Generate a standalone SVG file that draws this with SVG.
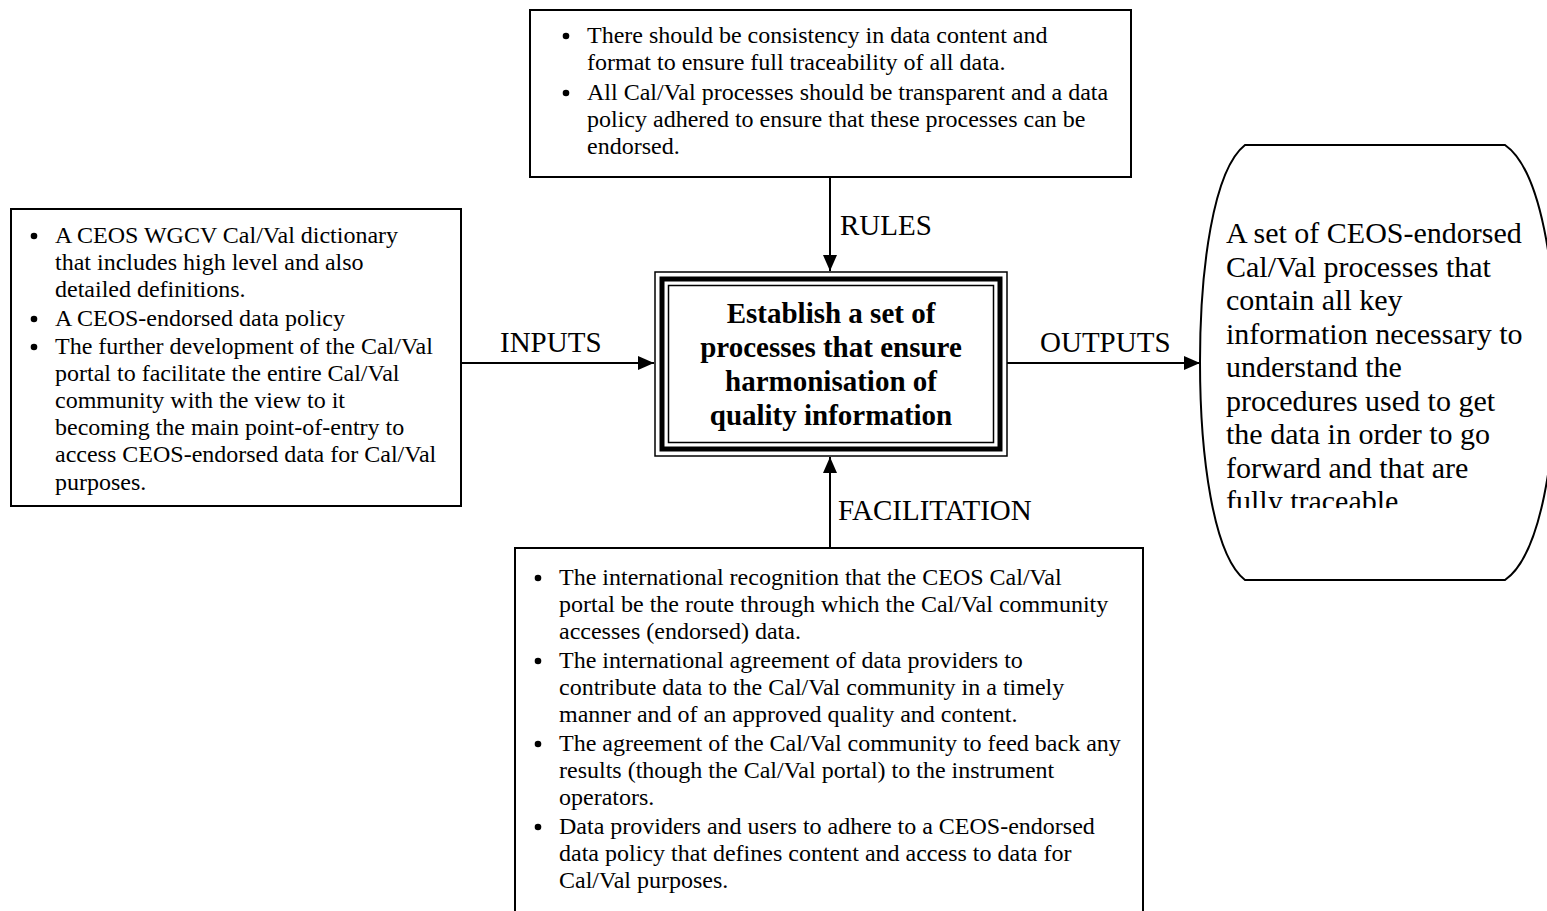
<svg xmlns="http://www.w3.org/2000/svg" width="1547" height="911" viewBox="0 0 1547 911">
<style>
.box{fill:#fff;stroke:#000;stroke-width:2}
.t{font-family:"Liberation Serif","Times New Roman",serif;font-size:24px;fill:#000}
.dot{fill:#000}
.lbl{font-family:"Liberation Serif","Times New Roman",serif;font-size:29px;fill:#000}
.out{font-family:"Liberation Serif","Times New Roman",serif;font-size:30px;fill:#000}
.bold{font-family:"Liberation Serif","Times New Roman",serif;font-size:29px;font-weight:bold;fill:#000;text-anchor:middle}
.conn{stroke:#000;stroke-width:2;fill:none}
</style>
<defs>
<marker id="ah" markerWidth="16" markerHeight="14" refX="16" refY="7" orient="auto" markerUnits="userSpaceOnUse">
<path d="M0,0 L16,7 L0,14 Z" fill="#000"/>
</marker>
<clipPath id="ovalclip"><rect x="1200" y="140" width="347" height="368"/></clipPath>
</defs>
<rect width="1547" height="911" fill="#fff"/>

<g id="rules-box">
<rect class="box" x="530" y="10" width="601" height="167"/>
<circle class="dot" cx="566" cy="36" r="3.3"/>
<text class="t" x="587" y="43">There should be consistency in data content and</text>
<text class="t" x="587" y="70">format to ensure full traceability of all data.</text>
<circle class="dot" cx="566" cy="93" r="3.3"/>
<text class="t" x="587" y="100">All Cal/Val processes should be transparent and a data</text>
<text class="t" x="587" y="127">policy adhered to ensure that these processes can be</text>
<text class="t" x="587" y="154">endorsed.</text>
</g>

<g id="inputs-box">
<rect class="box" x="11" y="209" width="450" height="297"/>
<circle class="dot" cx="34" cy="236" r="3.3"/>
<text class="t" x="55" y="243">A CEOS WGCV Cal/Val dictionary</text>
<text class="t" x="55" y="270">that includes high level and also</text>
<text class="t" x="55" y="297">detailed definitions.</text>
<circle class="dot" cx="34" cy="319" r="3.3"/>
<text class="t" x="55" y="326">A CEOS-endorsed data policy</text>
<circle class="dot" cx="34" cy="347" r="3.3"/>
<text class="t" x="55" y="354">The further development of the Cal/Val</text>
<text class="t" x="55" y="381">portal to facilitate the entire Cal/Val</text>
<text class="t" x="55" y="408">community with the view to it</text>
<text class="t" x="55" y="435">becoming the main point-of-entry to</text>
<text class="t" x="55" y="462">access CEOS-endorsed data for Cal/Val</text>
<text class="t" x="55" y="490">purposes.</text>
</g>

<g id="process-box">
<rect x="655" y="272" width="352" height="184" fill="#fff" stroke="#000" stroke-width="1.5"/>
<rect x="662" y="279" width="338" height="170" fill="none" stroke="#000" stroke-width="5"/>
<rect x="668.5" y="285.5" width="325" height="157" fill="none" stroke="#000" stroke-width="1.5"/>
<text class="bold" x="831" y="323">Establish a set of</text>
<text class="bold" x="831" y="357">processes that ensure</text>
<text class="bold" x="831" y="391">harmonisation of</text>
<text class="bold" x="831" y="425">quality information</text>
</g>

<g id="outputs-oval">
<path class="box" d="M1245,145 L1505,145 C1541,170 1556,270 1556,362 C1556,455 1541,555 1505,580 L1245,580 C1213,555 1200,455 1200,362 C1200,270 1213,170 1245,145 Z"/>
<g clip-path="url(#ovalclip)">
<text class="out" x="1226" y="243">A set of CEOS-endorsed</text>
<text class="out" x="1226" y="276.5">Cal/Val processes that</text>
<text class="out" x="1226" y="310">contain all key</text>
<text class="out" x="1226" y="343.5">information necessary to</text>
<text class="out" x="1226" y="377">understand the</text>
<text class="out" x="1226" y="410.5">procedures used to get</text>
<text class="out" x="1226" y="444">the data in order to go</text>
<text class="out" x="1226" y="477.5">forward and that are</text>
<text class="out" x="1226" y="511">fully traceable</text>
</g>
</g>

<g id="facilitation-box">
<rect class="box" x="515" y="548" width="628" height="380"/>
<circle class="dot" cx="538" cy="578" r="3.3"/>
<text class="t" x="559" y="585">The international recognition that the CEOS Cal/Val</text>
<text class="t" x="559" y="612">portal be the route through which the Cal/Val community</text>
<text class="t" x="559" y="639">accesses (endorsed) data.</text>
<circle class="dot" cx="538" cy="661" r="3.3"/>
<text class="t" x="559" y="668">The international agreement of data providers to</text>
<text class="t" x="559" y="695">contribute data to the Cal/Val community in a timely</text>
<text class="t" x="559" y="722">manner and of an approved quality and content.</text>
<circle class="dot" cx="538" cy="744" r="3.3"/>
<text class="t" x="559" y="751">The agreement of the Cal/Val community to feed back any</text>
<text class="t" x="559" y="778">results (though the Cal/Val portal) to the instrument</text>
<text class="t" x="559" y="805">operators.</text>
<circle class="dot" cx="538" cy="827" r="3.3"/>
<text class="t" x="559" y="834">Data providers and users to adhere to a CEOS-endorsed</text>
<text class="t" x="559" y="861">data policy that defines content and access to data for</text>
<text class="t" x="559" y="888">Cal/Val purposes.</text>
</g>

<g id="connectors">
<line class="conn" x1="830" y1="177" x2="830" y2="271" marker-end="url(#ah)"/>
<line class="conn" x1="461" y1="363" x2="654" y2="363" marker-end="url(#ah)"/>
<line class="conn" x1="1007" y1="363" x2="1200" y2="363" marker-end="url(#ah)"/>
<line class="conn" x1="830" y1="548" x2="830" y2="457" marker-end="url(#ah)"/>
<text class="lbl" x="840" y="235">RULES</text>
<text class="lbl" x="500" y="352">INPUTS</text>
<text class="lbl" x="1040" y="352">OUTPUTS</text>
<text class="lbl" x="838" y="520">FACILITATION</text>
</g>
</svg>
